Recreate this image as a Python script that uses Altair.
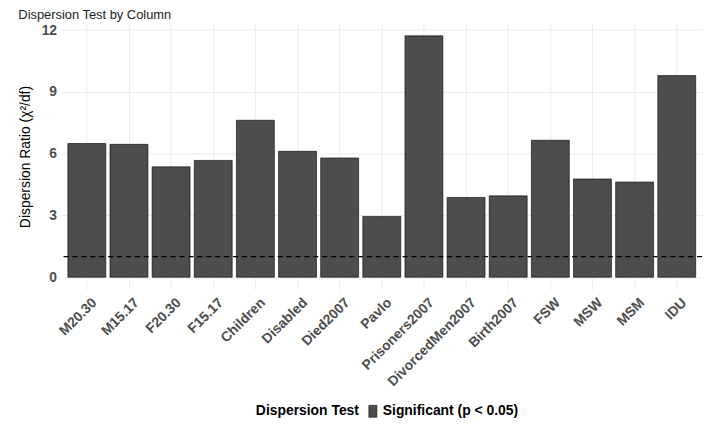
import altair as alt
import pandas as pd

categories = ["M20.30", "M15.17", "F20.30", "F15.17", "Children", "Disabled", "Died2007",
              "Pavlo", "Prisoners2007", "DivorcedMen2007", "Birth2007", "FSW", "MSW", "MSM", "IDU"]
ratios = [6.49, 6.45, 5.36, 5.67, 7.62, 6.11, 5.79, 2.95, 11.72, 3.87, 3.95, 6.65, 4.77, 4.62, 9.79]
status = ["Significant (p < 0.05)"] * len(categories)
y_ticks = [0, 1.5, 3, 4.5, 6, 7.5, 9, 10.5, 12]
threshold = [1]

df = pd.DataFrame({"col": categories, "ratio": ratios, "test": status})
thr = pd.DataFrame({"t": threshold})

FONT = "Liberation Sans"

x_enc = alt.X("col:N", sort=categories, title=None,
              scale=alt.Scale(paddingInner=0.1, paddingOuter=0.15),
              axis=alt.Axis(labelAngle=-45, labelAlign="right", labelBaseline="top",
                            labelFont=FONT, labelFontSize=14, labelFontWeight="bold",
                            labelColor="#4D4D4D", labelPadding=6, labelOffset=3,
                            ticks=False, domain=False,
                            grid=True, gridColor="#EBEBEB", gridWidth=1, bandPosition=0.5))
y_scale = alt.Scale(domain=[-0.59, 12.31], nice=False, zero=False)
y_axis = alt.Axis(values=y_ticks, labelExpr="datum.value % 3 == 0 ? datum.label : ''",
                  labelFont=FONT, labelFontSize=14, labelFontWeight="bold", labelColor="#4D4D4D",
                  labelPadding=5, ticks=False, domain=False, grid=True,
                  gridColor={"condition": {"test": "datum.value % 3 != 0", "value": "#F4F4F4"},
                             "value": "#EBEBEB"},
                  title="Dispersion Ratio (χ²/df)", titleFont=FONT, titleFontSize=14,
                  titleFontWeight="normal", titleColor="black", titlePadding=9)

bars = alt.Chart(df).mark_bar(stroke="black", strokeWidth=0.6).encode(
    x=x_enc,
    y=alt.Y("ratio:Q", scale=y_scale, axis=y_axis),
    color=alt.Color("test:N", scale=alt.Scale(range=["#4D4D4D"]),
                    legend=alt.Legend(title="Dispersion Test", orient="none", direction="horizontal",
                                      titleOrient="left", legendX=196, legendY=384,
                                      titleFont=FONT, titleFontSize=14, titleFontWeight="bold",
                                      titleColor="black", labelFont=FONT, labelFontSize=14,
                                      labelFontWeight="bold", labelColor="black",
                                      symbolType="M-0.67,-1L0.67,-1L0.67,1L-0.67,1Z",
                                      symbolSize=144, symbolFillColor="#4D4D4D",
                                      symbolStrokeColor="black", symbolStrokeWidth=0.6,
                                      titlePadding=7, labelOffset=3)),
)

rule = alt.Chart(thr).mark_rule(color="black", strokeDash=[5, 4], strokeWidth=1.1).encode(
    y=alt.Y("t:Q", scale=y_scale)
)

chart = alt.layer(bars, rule).properties(
    width=646, height=268,
    padding={"left": 54, "top": 14, "right": 4, "bottom": 136},
    autosize=alt.AutoSizeParams(type="none"),
    title=alt.TitleParams("Dispersion Test by Column", anchor="start", font=FONT, fontSize=13,
                          fontWeight="normal", color="#222222", offset=1),
).configure_view(stroke=None)

chart.save("out.html", embed_options={"renderer": "svg", "actions": False})
